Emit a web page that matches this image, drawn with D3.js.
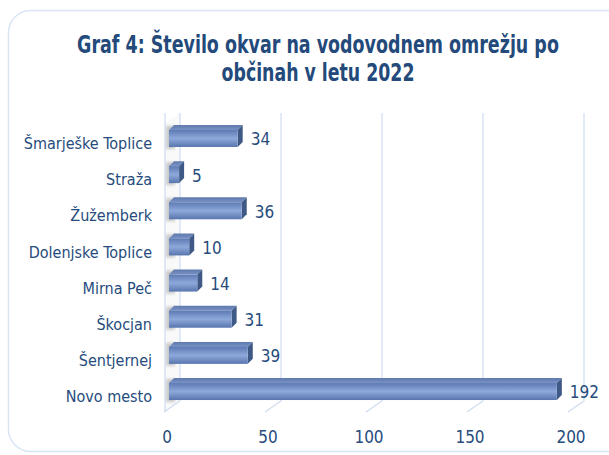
<!DOCTYPE html>
<html>
<head>
<meta charset="utf-8">
<script src="https://cdn.jsdelivr.net/npm/d3@7"></script>
<style>
  body { margin: 0; background: #fff; }
  text { font-family: "DejaVu Sans Condensed", "DejaVu Sans", sans-serif; font-stretch: condensed; fill: #264b7c; }
</style>
</head>
<body>
<svg id="Diagram" width="609" height="455"></svg>
<script>
// data
var categories = ["Šmarješke Toplice", "Straža", "Žužemberk", "Dolenjske Toplice", "Mirna Peč", "Škocjan", "Šentjernej", "Novo mesto"];
var values = [34, 5, 36, 10, 14, 31, 39, 192];
var ticks = [0, 50, 100, 150, 200];
var titleLines = ["Graf 4: Število okvar na vodovodnem omrežju po", "občinah v letu 2022"];
var titleWidths = [482, 193];

var svg = d3.select("#Diagram");
var defs = svg.append("defs");

// frame
svg.append("rect")
    .attr("x", 8.5).attr("y", 10.5)
    .attr("width", 640).attr("height", 441)
    .attr("rx", 22)
    .attr("fill", "#fff")
    .attr("stroke", "#d9e5f4").attr("stroke-width", 1.5);

// title - squeeze each line horizontally to the width seen in the picture
svg.append("g").selectAll("text")
    .data(titleLines)
    .enter().append("text")
    .attr("x", 0)
    .attr("y", 0)
    .attr("text-anchor", "middle")
    .style("font-size", "25px")
    .style("font-weight", "bold")
    .style("fill", "#234a7a")
    .text(function (d) { return d; })
    .attr("transform", function (d, i) {
        var len = this.getComputedTextLength();
        var sx = Math.min(1, titleWidths[i] / len);
        return "translate(318," + (53 + i * 28) + ") scale(" + sx + ",1)";
    });

// scales (front floor plane)
var x = d3.scaleLinear().domain([0, 200]).range([164, 568]);
var y = d3.scaleBand().domain(categories).range([120.4, 409.6]).paddingInner(0.53).paddingOuter(0.265);

var back = { dx: 16, dy: -11 };   // depth of the plot box
var top3d = { dx: 5, dy: -5 };    // depth of a bar
var barShift = 5;                 // bars sit a bit into the box
var wallTop = 113, floorBack = 401;

// left wall
svg.append("path")
    .attr("d", "M" + x(0) + "," + (wallTop + 11) + "L" + (x(0) + back.dx) + "," + wallTop +
        "L" + (x(0) + back.dx) + "," + floorBack + "L" + x(0) + "," + (floorBack - back.dy) + "Z")
    .attr("fill", "#f9f9f9");

// gridlines on back wall + floor
var grid = svg.append("g");
ticks.forEach(function (t) {
    grid.append("path")
        .attr("d", "M" + (x(t) + back.dx) + "," + wallTop + "L" + (x(t) + back.dx) + "," + floorBack +
            "L" + x(t) + "," + (floorBack - back.dy))
        .attr("fill", "none")
        .attr("stroke", "#cddcf0").attr("stroke-width", 1.2);
});
grid.append("line")
    .attr("x1", x(0) + 1).attr("x2", x(0) + 1)
    .attr("y1", wallTop).attr("y2", floorBack - back.dy)
    .attr("stroke", "#cddcf0").attr("stroke-width", 1.2);

// gradients
var gFront = defs.append("linearGradient").attr("id", "gFront").attr("x1", 0).attr("x2", 0).attr("y1", 0).attr("y2", 1);
gFront.append("stop").attr("offset", "0%").attr("stop-color", "#5d7ab3");
gFront.append("stop").attr("offset", "50%").attr("stop-color", "#8ea8da");
gFront.append("stop").attr("offset", "100%").attr("stop-color", "#5876ae");
var gTop = defs.append("linearGradient").attr("id", "gTop").attr("x1", 0).attr("x2", 0).attr("y1", 0).attr("y2", 1);
gTop.append("stop").attr("offset", "0%").attr("stop-color", "#5f79ad");
gTop.append("stop").attr("offset", "100%").attr("stop-color", "#7892c6");
defs.append("filter").attr("id", "blur").append("feGaussianBlur").attr("stdDeviation", 1.5);

// bar shadows on the left wall
svg.append("g").selectAll("rect")
    .data(values)
    .enter().append("rect")
    .attr("x", x(0) + 2)
    .attr("y", function (d, i) { return y(categories[i]) - 4; })
    .attr("width", 9)
    .attr("height", y.bandwidth() + 6)
    .attr("fill", "#c8c8c8")
    .attr("filter", "url(#blur)");

// bars
var bars = svg.append("g").selectAll("g")
    .data(values)
    .enter().append("g");

bars.append("path") // top face
    .attr("d", function (d, i) {
        var x0 = x(0) + barShift, x1 = x(d) + barShift, y0 = y(categories[i]);
        return "M" + x0 + "," + y0 + "L" + (x0 + top3d.dx) + "," + (y0 + top3d.dy) +
            "L" + (x1 + top3d.dx) + "," + (y0 + top3d.dy) + "L" + x1 + "," + y0 + "Z";
    })
    .attr("fill", "url(#gTop)");

bars.append("path") // side face
    .attr("d", function (d, i) {
        var x1 = x(d) + barShift, y0 = y(categories[i]), y1 = y0 + y.bandwidth();
        return "M" + x1 + "," + y0 + "L" + (x1 + top3d.dx) + "," + (y0 + top3d.dy) +
            "L" + (x1 + top3d.dx) + "," + (y1 + top3d.dy) + "L" + x1 + "," + y1 + "Z";
    })
    .attr("fill", "#3f5987");

bars.append("rect") // front face
    .attr("x", x(0) + barShift)
    .attr("y", function (d, i) { return y(categories[i]); })
    .attr("width", function (d) { return x(d) - x(0); })
    .attr("height", y.bandwidth())
    .attr("fill", "url(#gFront)");

// value labels
bars.append("text")
    .attr("x", function (d) { return x(d) + barShift + 13; })
    .attr("y", function (d, i) { return y(categories[i]) + y.bandwidth() / 2 + 1; })
    .attr("dy", "0.35em")
    .style("font-size", "17px")
    .text(function (d) { return d; });

// category labels
svg.append("g").selectAll("text")
    .data(categories)
    .enter().append("text")
    .attr("x", 152)
    .attr("y", function (d) { return y(d) + y.bandwidth() / 2 + 5; })
    .attr("dy", "0.35em")
    .attr("text-anchor", "end")
    .style("font-size", "16px")
    .text(function (d) { return d; });

// x tick labels
svg.append("g").selectAll("text")
    .data(ticks)
    .enter().append("text")
    .attr("x", function (d) { return x(d) + 3; })
    .attr("y", 443)
    .attr("text-anchor", "middle")
    .style("font-size", "17px")
    .text(function (d) { return d; });
</script>
</body>
</html>
